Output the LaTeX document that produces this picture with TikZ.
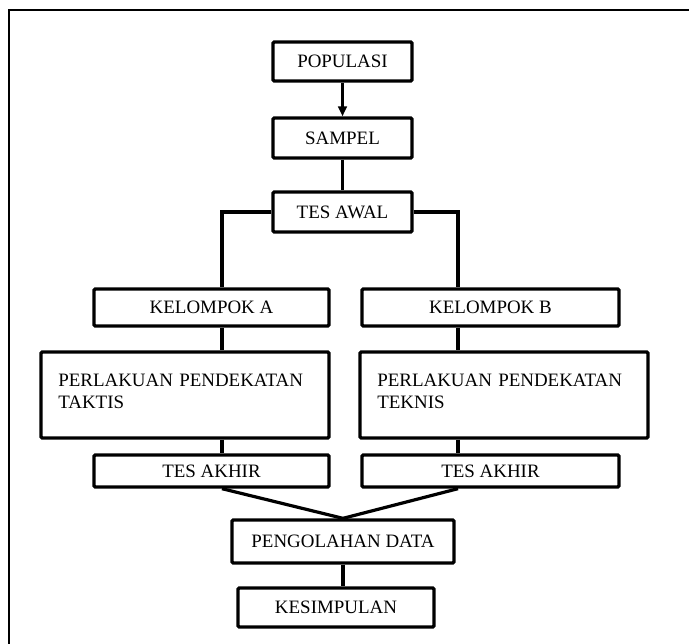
\documentclass[tikz,border=0pt]{standalone}
\usepackage{fontspec}
\setmainfont{Liberation Serif}
\usepackage{tikz}
\usetikzlibrary{arrows.meta, positioning, calc}

\begin{document}
\begin{tikzpicture}[
  x=0.75pt, y=-0.75pt,
  box/.style={draw, line width=2.5pt, rounded corners=1pt, inner sep=0pt,
              minimum width=#1, font=\fontsize{14.2}{17}\selectfont},
  box/.default=104.25pt,
  tallbox/.style={box=216pt, minimum height=64.5pt, inner xsep=13pt,
                  text width=190pt, align=left},
  link/.style={line width=2.4pt},
  arr/.style={link, -{Triangle[length=7.5pt,width=6.5pt]}}
]
\useasboundingbox (0,0) rectangle (689,643);
\begin{scope}
\clip (0,0) rectangle (689,643);
\draw[line width=1.7pt] (9,10) rectangle (720,680);
\end{scope}

\coordinate (colA) at (222,0);
\coordinate (colB) at (458,0);

\node[box, minimum height=29.25pt] (pop) at (342.5,61.5) {POPULASI};
\node[box, minimum height=30pt] (sampel) at (342.5,138) {SAMPEL};
\node[box, minimum height=30pt] (awal) at (342.5,212) {TES AWAL};

\node[box=176.25pt, minimum height=27.75pt] (kelA) at (211.5,307.5) {KELOMPOK A};
\node[box=192.75pt, minimum height=27.75pt] (kelB) at (490.5,307.5) {KELOMPOK B};

\node[tallbox] (perA) at (185,395) {PERLAKUAN PENDEKATAN\\TAKTIS\\[-11.5pt]\mbox{}};
\node[tallbox] (perB) at (504,395) {PERLAKUAN PENDEKATAN\\TEKNIS\\[-11.5pt]\mbox{}};

\node[box=176.25pt, minimum height=24pt] (akhA) at (211.5,471) {TES AKHIR};
\node[box=192.75pt, minimum height=24pt] (akhB) at (490.5,471) {TES AKHIR};

\node[box=166.5pt, minimum height=32.25pt] (olah) at (343,541.5) {PENGOLAHAN DATA};
\node[box=147pt, minimum height=29.25pt] (simpul) at (336,607.5) {KESIMPULAN};

\draw[arr] (pop) -- (sampel);
\draw[link] (sampel) -- (awal);
\draw[link] (awal.west) -| (colA |- kelA.north);
\draw[link] (awal.east) -| (colB |- kelB.north);
\draw[link] (colA |- kelA.south) -- (colA |- perA.north);
\draw[link] (colB |- kelB.south) -- (colB |- perB.north);
\draw[link] (colA |- perA.south) -- (colA |- akhA.north);
\draw[link] (colB |- perB.south) -- (colB |- akhB.north);
\draw[link] (colA |- akhA.south) -- (olah.north);
\draw[link] (colB |- akhB.south) -- (olah.north);
\draw[link] (olah.south) -- (olah.south |- simpul.north);
\end{tikzpicture}
\end{document}
